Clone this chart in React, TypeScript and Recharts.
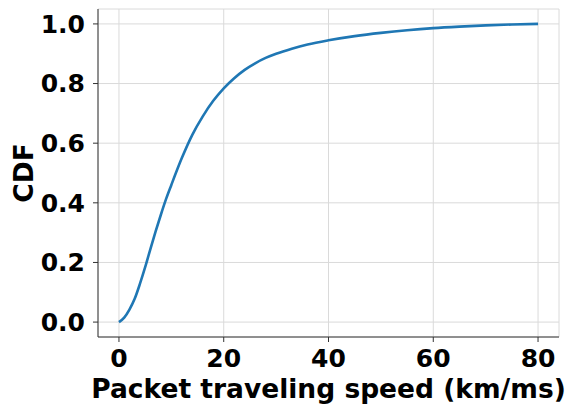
import React from 'react';
import { LineChart, Line, XAxis, YAxis, CartesianGrid, Label } from 'recharts';

// packet speed (km/ms) vs cumulative fraction
const speed = [0, 1, 2, 3, 4, 5, 6, 7, 8, 9, 10, 12, 14, 16, 18, 20, 22, 24, 26, 28, 30, 33, 36, 40, 45, 50, 55, 60, 65, 70, 75, 80];
const cdf = [0, 0.015, 0.042, 0.078, 0.128, 0.184, 0.245, 0.304, 0.36, 0.413, 0.46, 0.55, 0.628, 0.69, 0.742, 0.784, 0.818, 0.846, 0.868, 0.886, 0.9, 0.917, 0.931, 0.945, 0.959, 0.97, 0.979, 0.986, 0.991, 0.995, 0.998, 1.0];

const xTicks = [0, 20, 40, 60, 80];
const yTicks = [0, 0.2, 0.4, 0.6, 0.8, 1.0];

const data = speed.map((s, i) => ({ speed: s, cdf: cdf[i] }));

const FONT = '"DejaVu Sans", sans-serif';
const tickStyle = { fontFamily: FONT, fontWeight: 'bold', fontSize: 25, fill: '#000' };
const titleStyle = { fontFamily: FONT, fontWeight: 'bold', fontSize: 26.5, fill: '#000' };

const YTitle = (props: any) => {
  const vb = props.viewBox;
  const cx = vb.x + 23;
  const cy = vb.y + vb.height / 2;
  return (
    <text
      x={cx}
      y={cy}
      transform={`rotate(-90 ${cx} ${cy})`}
      textAnchor="middle"
      dominantBaseline="central"
      style={titleStyle}
    >
      CDF
    </text>
  );
};

const App = () => {
  return (
    <div style={{ position: 'absolute', left: 0, top: 0, width: 568, height: 404, background: '#fff' }}>
      <LineChart width={568} height={404} data={data} margin={{ top: 9, right: 9, left: 0, bottom: 0 }}>
        <CartesianGrid stroke="#dadada" strokeWidth={1} />
        <XAxis
          dataKey="speed"
          type="number"
          domain={[-4, 84]}
          ticks={xTicks}
          height={67}
          tickSize={5}
          tickMargin={7}
          tick={tickStyle}
          stroke="#333"
          tickLine={{ stroke: '#333' }}
          interval={0}
        >
          <Label value="Packet traveling speed (km/ms)" position="insideBottom" offset={6} style={titleStyle} />
        </XAxis>
        <XAxis xAxisId="top" orientation="top" type="number" domain={[-4, 84]} height={0} tick={false} tickLine={false} stroke="#333" />
        <YAxis
          type="number"
          domain={[-0.05, 1.05]}
          ticks={yTicks}
          width={98}
          tickSize={5}
          tickMargin={8}
          tick={tickStyle}
          tickFormatter={(v: number) => v.toFixed(1)}
          stroke="#333"
          tickLine={{ stroke: '#333' }}
          interval={0}
        >
          <Label content={YTitle} />
        </YAxis>
        <YAxis yAxisId="right" orientation="right" type="number" domain={[-0.05, 1.05]} width={0} tick={false} tickLine={false} stroke="#333" />
        <Line
          type="monotone"
          dataKey="cdf"
          stroke="#1f77b4"
          strokeWidth={2.6}
          dot={false}
          isAnimationActive={false}
        />
      </LineChart>
    </div>
  );
};

export default App;
